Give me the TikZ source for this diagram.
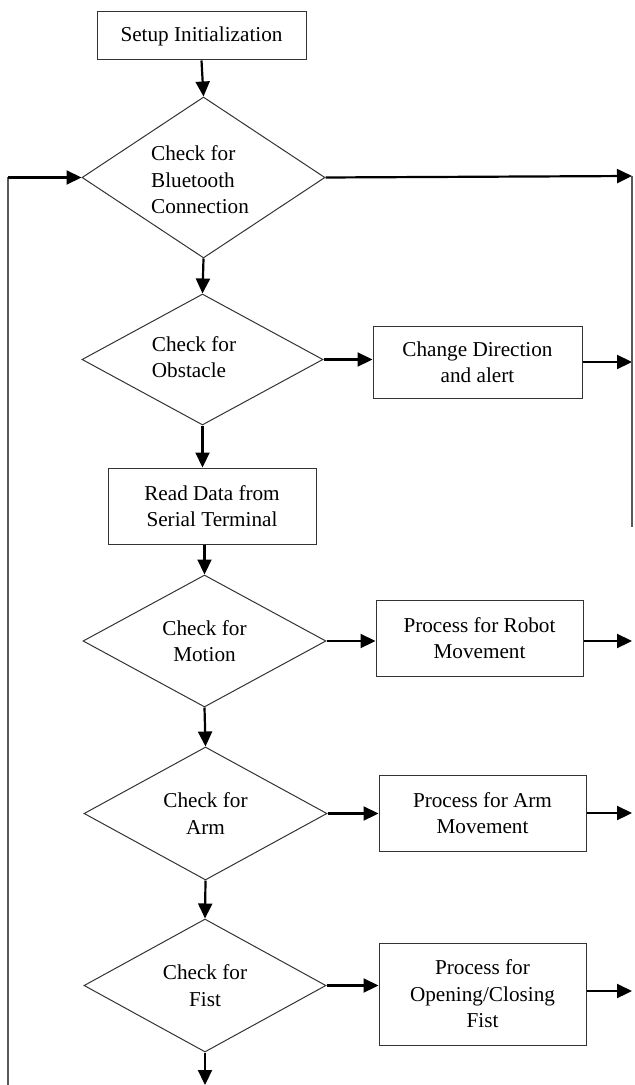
\documentclass[tikz,border=0pt]{standalone}
\usepackage{fontspec}
\setmainfont{Liberation Serif}
\usetikzlibrary{shapes.geometric,arrows.meta}
\begin{document}
\begin{tikzpicture}[x=0.5pt,y=-0.5pt,
  txt/.style={font=\fontsize{10.6}{13.2}\selectfont},
  box/.style={txt, draw=black!80, line width=0.5pt, rectangle, inner sep=0pt, align=center},
  dec/.style={txt, draw=black!80, line width=0.5pt, diamond, inner sep=0pt},
  arr/.style={line width=1.1pt, -{Triangle[length=7.5pt,width=7pt]}},
  side/.style={line width=0.8pt, draw=black!65}]
\useasboundingbox (0,0) rectangle (635,1085);

\node[box, minimum width=104.5pt, minimum height=24pt] (setup) at (201.5,36) {Setup Initialization};
\node[dec, minimum width=121.5pt, minimum height=80.5pt] (d1) at (203.5,177.5) {};
\node[txt, align=left, inner sep=0pt] (d1t) at (200,180) {Check for\\Bluetooth\\Connection};
\node[dec, minimum width=120.5pt, minimum height=65.5pt] (d2) at (202.5,359.5) {};
\node[txt, align=left, inner sep=0pt] (d2t) at (194,357) {Check for\\Obstacle};
\node[box, minimum width=104.5pt, minimum height=36pt] (cd) at (477.5,362) {Change Direction\\and alert};
\node[box, minimum width=104pt, minimum height=38pt] (read) at (212,506) {Read Data from\\Serial Terminal};
\node[dec, align=center, minimum width=121.5pt, minimum height=66pt] (d3) at (204.5,641) {Check for\\Motion};
\node[box, minimum width=103.5pt, minimum height=38pt] (robot) at (479.5,638) {Process for Robot\\Movement};
\node[dec, align=center, minimum width=121.5pt, minimum height=66.5pt] (d4) at (205.5,813.5) {Check for\\Arm};
\node[box, minimum width=103.5pt, minimum height=38pt] (arm) at (482.5,813) {Process for Arm\\Movement};
\node[dec, align=center, minimum width=121pt, minimum height=66.5pt] (d5) at (205,985.5) {Check for\\Fist};
\node[box, minimum width=103.5pt, minimum height=51pt] (fist) at (482.5,994) {Process for\\Opening/Closing\\Fist};

\coordinate (rtop) at (632,176);
\coordinate (rbot) at (632,527);
\coordinate (lbot) at (8,1085);
\coordinate (bend) at (205,1085);

% vertical flow
\draw[arr] (setup.south) -- (d1.north);
\draw[arr] (d1.south) -- (d2.north);
\draw[arr] (d2.south) -- (read.north -| d2.south);
\draw[arr] (read.south -| d3.north) -- (d3.north);
\draw[arr] (d3.south) -- (d4.north);
\draw[arr] (d4.south) -- (d5.north);
\draw[arr] (d5.south) -- (bend);

% decisions to processes
\draw[arr] (d2.east) -- (d2.east -| cd.west);
\draw[arr] (d3.east) -- (d3.east -| robot.west);
\draw[arr] (d4.east) -- (d4.east -| arm.west);
\draw[arr] (d5.east) -- (d5.east -| fist.west);

% processes to right edge
\draw[arr] (cd.east) -- (cd.east -| rtop);
\draw[arr] (robot.east) ++(0,3) coordinate (re) -- (re -| rtop);
\draw[arr] (arm.east) -- (arm.east -| rtop);
\draw[arr] (fist.east) ++(0,-3) coordinate (fe) -- (fe -| rtop);

% right side
\draw[arr] (d1.east) -- (rtop);
\draw[side] (rtop) -- (rbot);

% left return
\draw[side] (lbot) -- (lbot |- d1.west);
\draw[arr] (lbot |- d1.west) -- (d1.west);
\end{tikzpicture}
\end{document}
